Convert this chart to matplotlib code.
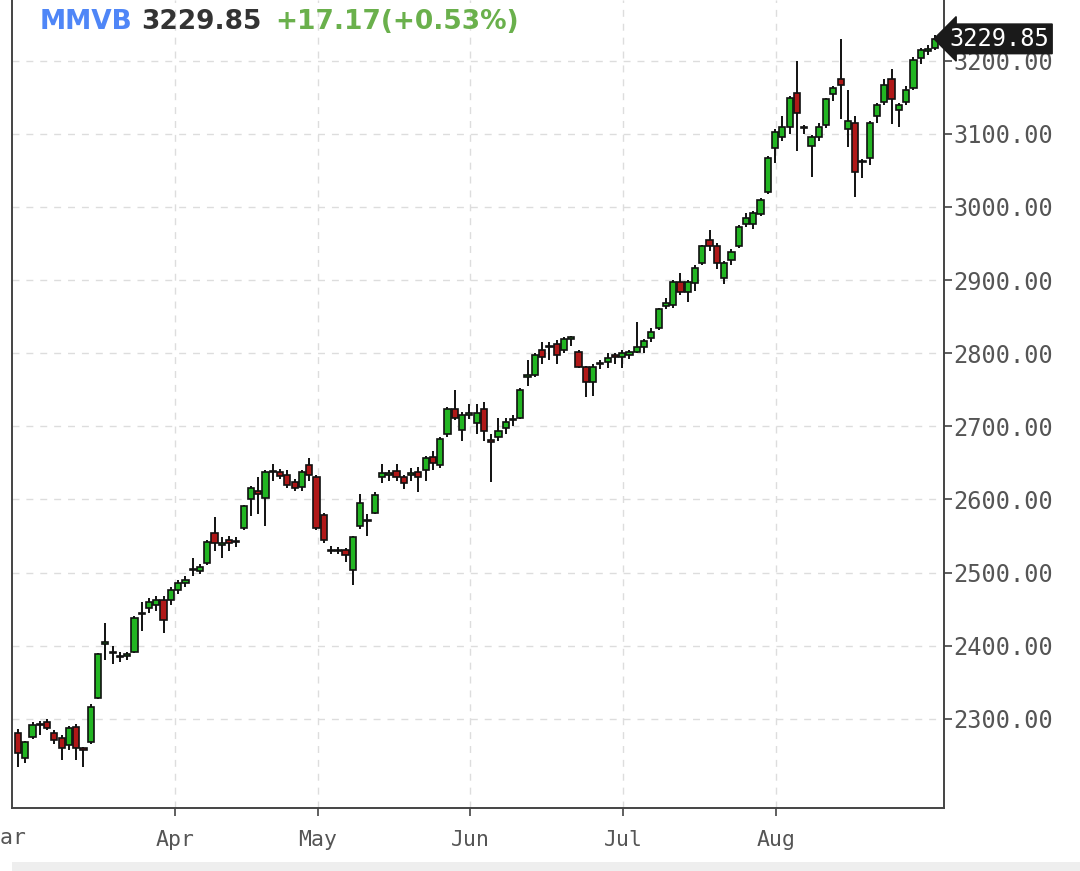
import matplotlib
matplotlib.use("Agg")
import matplotlib.pyplot as plt
from matplotlib.patches import Rectangle
import matplotlib.transforms as mtransforms

opens = [2281,2247,2275,2292,2296,2281,2274,2264,2289,2259,2268,2329,2402,2392,2386,2386,2392,2443,2452,2455,
         2463,2463,2476,2486,2503,2502,2513,2554,2537,2545,2542,2561,2600,2612,2602,2637,2638,2634,2624,2617,
         2647,2630,2579,2531,2530,2531,2504,2563,2570,2582,2630,2634,2639,2630,2634,2638,2640,2658,2647,2689,
         2723,2695,2716,2705,2723,2681,2686,2697,2708,2712,2768,2770,2805,2808,2812,2805,2820,2802,2781,2760,
         2785,2788,2797,2795,2798,2802,2809,2821,2835,2864,2866,2898,2884,2896,2924,2955,2946,2903,2928,2946,
         2976,2976,2990,3020,3081,3095,3110,3156,3108,3083,3096,3112,3154,3175,3106,3115,3061,3067,3124,3144,
         3175,3133,3143,3163,3204,3213,3218]
highs = [2286,2270,2295,2297,2300,2285,2278,2290,2293,2262,2320,2390,2431,2400,2392,2392,2440,2460,2465,2468,
         2468,2480,2490,2495,2520,2512,2545,2576,2548,2550,2548,2593,2618,2630,2640,2648,2642,2640,2628,2640,
         2657,2634,2582,2536,2535,2533,2550,2607,2580,2610,2648,2640,2648,2634,2643,2645,2660,2666,2686,2726,
         2750,2720,2730,2730,2733,2690,2712,2712,2715,2752,2790,2800,2815,2815,2818,2822,2823,2805,2783,2785,
         2790,2800,2800,2805,2804,2842,2820,2835,2862,2875,2900,2910,2900,2920,2948,2969,2950,2926,2942,2975,
         2992,2995,3012,3070,3106,3125,3152,3199,3112,3098,3115,3149,3166,3229,3160,3125,3065,3118,3142,3175,
         3188,3142,3165,3205,3218,3222,3235]
lows = [2234,2240,2272,2278,2285,2265,2244,2258,2244,2234,2266,2327,2380,2375,2378,2380,2390,2420,2445,2448,
        2418,2455,2470,2480,2495,2498,2510,2530,2520,2530,2535,2558,2578,2580,2564,2625,2628,2615,2612,2612,
        2625,2558,2540,2526,2525,2515,2483,2560,2550,2580,2622,2625,2625,2614,2625,2610,2625,2640,2643,2685,
        2708,2680,2710,2690,2680,2624,2680,2690,2700,2710,2755,2768,2785,2790,2785,2800,2810,2780,2740,2742,
        2778,2780,2785,2780,2792,2800,2800,2815,2832,2860,2862,2880,2870,2885,2920,2940,2915,2895,2920,2944,
        2972,2970,2988,3018,3060,3090,3100,3076,3100,3041,3090,3108,3145,3120,3082,3014,3040,3058,3115,3140,
        3113,3110,3140,3160,3195,3208,3215]
closes = [2253,2268,2292,2293,2288,2271,2260,2288,2260,2258,2316,2388,2405,2390,2385,2389,2438,2445,2460,2463,
          2435,2476,2486,2490,2505,2508,2542,2541,2541,2540,2543,2591,2615,2607,2638,2638,2632,2620,2616,2638,
          2634,2561,2545,2530,2531,2524,2548,2595,2571,2606,2636,2635,2631,2623,2635,2631,2657,2650,2682,2723,
          2712,2716,2718,2718,2693,2679,2693,2706,2710,2750,2770,2798,2795,2809,2798,2820,2821,2781,2760,2781,
          2786,2794,2795,2800,2802,2809,2816,2829,2860,2868,2898,2884,2898,2917,2946,2946,2924,2924,2939,2972,
          2985,2992,3010,3067,3103,3110,3149,3129,3108,3095,3110,3147,3163,3167,3117,3048,3062,3115,3140,3167,
          3147,3140,3160,3201,3215,3216,3230]

months = ["Apr", "May", "Jun", "Jul", "Aug"]
month_pos = [21.6, 41.2, 62.1, 83.1, 104.1]
yticks = [2300, 2400, 2500, 2600, 2700, 2800, 2900, 3000, 3100, 3200]
last_price = "3229.85"
change = "+17.17(+0.53%)"
symbol = "MMVB"

MONO = "DejaVu Sans Mono"
W, H = 1080, 871
fig = plt.figure(figsize=(W/100, H/100), dpi=100)
fig.patch.set_facecolor("white")
ax = fig.add_axes([12/W, (H-808)/H, 932/W, 808/H])

green, red = "#22b522", "#b01818"
bw = 0.85
for i, (o, h, l, c) in enumerate(zip(opens, highs, lows, closes)):
    ax.vlines(i, l, h, color="#111111", lw=1.4, zorder=2)
    col = green if c >= o else red
    bot, ht = min(o, c), max(abs(c - o), 1.5)
    ax.add_patch(Rectangle((i - bw/2, bot), bw, ht, facecolor=col,
                           edgecolor="#111111", lw=1.2, zorder=3))

ax.set_xlim(-0.82, 127.2)
ax.set_ylim(2178, 3283)
ax.set_xticks(month_pos)
ax.set_xticklabels(months, fontfamily=MONO)
ax.set_yticks(yticks)
ax.set_yticklabels([f"{v:.2f}" for v in yticks], fontfamily=MONO)
ax.yaxis.tick_right()
ax.tick_params(axis="y", direction="out", length=6, width=1.2, colors="#444444",
               labelsize=17, labelcolor="#555555", pad=1)
ax.tick_params(axis="x", direction="out", length=6, width=1.2, colors="#444444",
               labelsize=15.5, labelcolor="#555555", pad=10)
ax.grid(True, color="#dddddd", ls=(0, (5, 5)), lw=1)
for s in ["left", "bottom", "right"]:
    ax.spines[s].set_color("#444444")
    ax.spines[s].set_linewidth(1.4)
ax.spines["top"].set_visible(False)

fig.text(7/W, 1 - 838/H, "Mar", ha="center", va="center", fontsize=15.5,
         color="#555555", fontfamily=MONO)

trans = mtransforms.blended_transform_factory(ax.transAxes, ax.transData)
ax.text(1.006, 3229.85, last_price, transform=trans, ha="left", va="center",
        fontsize=17, color="white", clip_on=False, fontfamily=MONO,
        bbox=dict(boxstyle="larrow,pad=0.12", fc="#1a1a1a", ec="#1a1a1a"))

ty = 1 - 22/H
fig.text(40/W, ty, symbol, color="#4f86f7", fontsize=19, fontweight="bold", va="center")
fig.text(141/W, ty, last_price, color="#333333", fontsize=19, fontweight="bold", va="center")
fig.text(275/W, ty, change, color="#6ab04c", fontsize=19, fontweight="bold", va="center")

fig.add_artist(Rectangle((12/W, 0), 1, 9/H, transform=fig.transFigure,
                         facecolor="#eeeeee", edgecolor="none"))

fig.savefig("out.png", dpi=100)
